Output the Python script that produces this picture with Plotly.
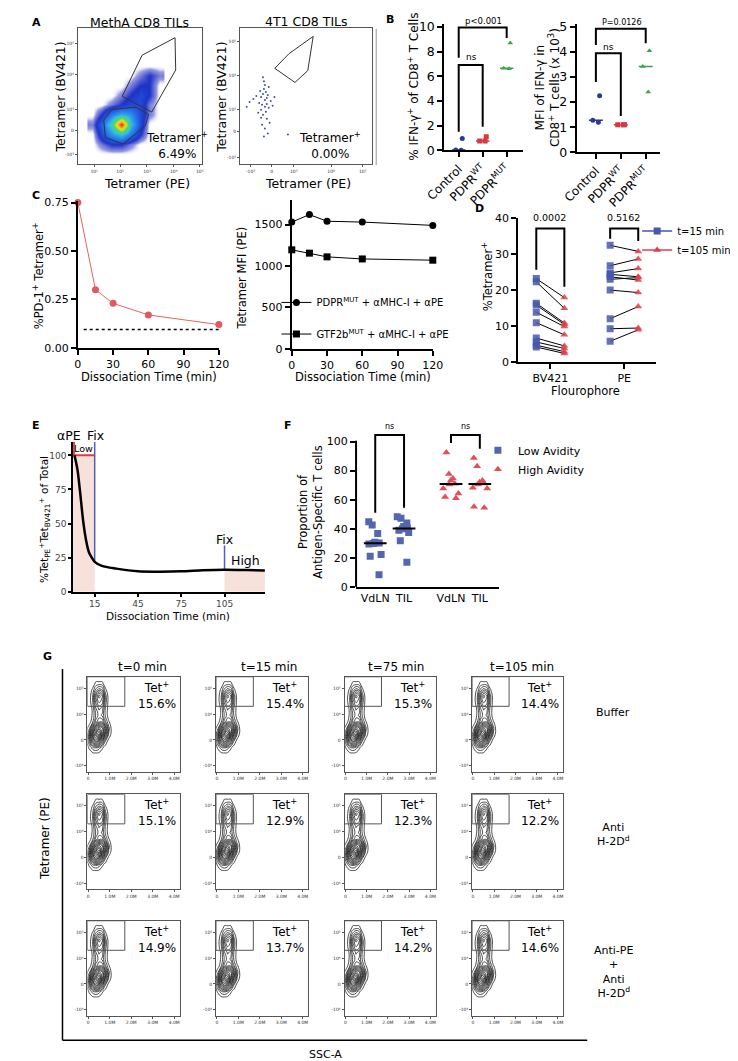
import numpy as np
import plotly.graph_objects as go

W, H = 738, 1061
FONT = "DejaVu Sans"

# ---------------- A : flow dot plots (axis display units) ----------------
metha_x = [1.5, 2.5, 3.5, 4.5, 5.5, 6.5, 7.5, 8.5]
metha_y = [1.0, 2.0, 3.0, 4.0, 5.0, 6.0, 7.0, 8.0, 9.0, 10.0]
metha_density = [
    [0, 0, 0, 0, 0, 0, 0, 0],
    [0, 0.5, 1, 1, 0.5, 0, 0, 0],
    [0, 1.5, 3, 4, 2.5, 1, 0, 0],
    [0.5, 2, 4.5, 10, 4, 1.5, 0, 0],
    [0, 1, 2.5, 3.5, 3, 1.5, 0.5, 0],
    [0, 0, 0.5, 1, 1.5, 1.5, 0.5, 0],
    [0, 0, 0, 0.5, 1, 1.5, 1, 0],
    [0, 0, 0, 0, 0.5, 1, 1, 0],
    [0, 0, 0, 0, 0, 0.5, 1, 0.5],
    [0, 0, 0, 0, 0, 0, 0, 0],
]
metha_gate_hi_x = [4.63, 6.7, 10.13, 10.2, 7.7, 4.63]
metha_gate_hi_y = [6.87, 11.03, 12.8, 9.53, 5.27, 6.87]
metha_gate_lo_x = [2.7, 3.53, 6.03, 7.37, 7.03, 4.7, 2.87, 2.7]
metha_gate_lo_y = [4.47, 5.53, 5.77, 5.03, 3.87, 2.03, 2.7, 4.47]

t41_x = [2.6, 2.4, 2.8, 2.2, 3.0, 2.5, 2.7, 2.3, 2.9, 2.1, 2.6, 3.2, 2.0, 2.4, 2.8, 1.7, 3.4, 2.5,
         2.2, 2.7, 1.4, 3.1, 2.6, 2.3, 1.0, 3.6, 2.9, 2.4, 0.7, 2.6, 3.0, 2.2, 1.9, 2.8, 5.0, 2.5]
t41_y = [6.5, 7.1, 6.1, 6.8, 5.7, 7.6, 5.3, 6.0, 7.0, 7.4, 8.0, 6.4, 6.2, 5.0, 4.6, 6.9, 5.9, 8.4,
         5.5, 7.3, 6.6, 4.2, 3.6, 4.0, 6.3, 6.8, 3.1, 8.8, 5.8, 5.8, 7.8, 4.7, 5.2, 6.7, 3.0, 2.8]
t41_gate_x = [3.63, 5.13, 7.63, 7.07, 5.73, 3.63]
t41_gate_y = [9.7, 11.2, 12.93, 9.47, 8.27, 9.7]

metha_xticks = [1.7, 4.4, 7.2, 10.0, 12.7]
metha_xlabels = ["10¹", "10²", "10³", "10⁴", "10⁵"]
metha_yticks = [1.0, 3.4, 5.5, 9.1, 12.2]
t41_xticks = [1.1, 3.3, 5.6, 9.5, 12.8]
t41_yticks = [0.7, 3.3, 5.5, 9.0, 12.4]
flow_labels = ["-10³", "0", "10³", "10⁴", "10⁵"]
metha_pct = "6.49%"
t41_pct = "0.00%"

# ---------------- B ----------------
b_groups = ["Control", "PDPR<sup>WT</sup>", "PDPR<sup>MUT</sup>"]
b_pct_ifng = [[0.95, 0.02, 0.0], [1.1, 0.75, 0.75], [8.7, 6.6, 6.65]]
b_mfi_ifng = [[2.25, 1.2, 1.28], [1.1, 1.1, 1.1], [4.05, 3.42, 2.4]]
b_colors = ["#2b3990", "#d6393d", "#39a54a"]
b_symbols = ["circle", "square", "triangle-up"]
b1_ns = [1.5, 6.9, 6.9, 1.9]
b1_p = [7.5, 9.95, 9.95, 9.1]
b2_ns = [2.8, 3.95, 3.95, 1.45]
b2_p = [4.28, 4.93, 4.93, 4.35]

# ---------------- C ----------------
c_time = [0, 15, 30, 60, 120]
c_pd1_tet = [0.75, 0.30, 0.23, 0.17, 0.12]
c_background_x = [5, 120]
c_background_y = [0.095, 0.095]
c_pdpr_mfi = [1530, 1620, 1540, 1530, 1490]
c_gtf2b_mfi = [1195, 1155, 1110, 1085, 1070]

# ---------------- D ----------------
d_groups = ["BV421", "PE"]
d_bv421_t15 = [23.2, 22.3, 16.3, 15.8, 13.8, 10.9, 6.6, 5.5, 4.6, 4.1]
d_bv421_t105 = [17.9, 14.9, 10.8, 10.4, 9.8, 7.5, 4.4, 3.7, 2.8, 2.3]
d_pe_t15 = [32.5, 26.8, 24.8, 24.4, 23.7, 23.0, 20.0, 12.0, 9.2, 5.7]
d_pe_t105 = [30.8, 28.7, 26.0, 23.7, 22.8, 23.5, 19.3, 15.4, 9.4, 8.9]
d_pvals = ["0.0002", "0.5162"]
d_bv_bracket = [25.7, 37.2, 37.2, 20.9]
d_pe_bracket = [34.3, 37.2, 37.2, 33.7]

# ---------------- E ----------------
e_time = [1, 3, 5, 7, 9, 11, 13, 15, 20, 30, 45, 60, 75, 90, 105, 120, 133]
e_pct = [100, 90, 72, 52, 38, 29, 25, 22, 19, 17, 15, 14.8, 15, 15.8, 16.2, 16, 15.7]
e_low_window = [0, 15]
e_high_window = [105, 133]
e_high_level = 15.7

# ---------------- F ----------------
f_low_vdln = [44.8, 42.5, 36.8, 30.7, 30.2, 29.8, 29.5, 22.3, 21.1, 8.4]
f_low_til = [48.2, 47.3, 43.9, 41.6, 40.5, 40.0, 39.0, 37.5, 31.8, 17.0]
f_high_vdln = [92.5, 77.7, 74.5, 73.2, 70.9, 70.5, 67.7, 64.3, 61.8, 60.9]
f_high_til = [88.6, 83.0, 73.2, 72.0, 71.1, 70.5, 68.2, 67.7, 55.2, 54.5]
f_low_bracket = [51, 104.5, 104.5, 54.5]
f_high_bracket = [99, 104.5, 104.5, 95]

# ---------------- G ----------------
g_times = ["t=0 min", "t=15 min", "t=75 min", "t=105 min"]
g_conditions = ["Buffer", "Anti<br>H-2D<sup>d</sup>", "Anti-PE<br>+<br>Anti<br>H-2D<sup>d</sup>"]
g_tet_pct = [["15.6%", "15.4%", "15.3%", "14.4%"],
             ["15.1%", "12.9%", "12.3%", "12.2%"],
             ["14.9%", "13.7%", "14.2%", "14.6%"]]
g_ssc = [-0.1, 0.05, 0.2, 0.35, 0.5, 0.65, 0.8, 0.95, 1.1, 1.25]
g_tet = [-0.55, -0.3, -0.05, 0.2, 0.45, 0.7, 0.95, 1.2, 1.45, 1.7, 1.95, 2.2, 2.45]
g_density = [
    [0, 0, 0, 0, 0, 0, 0, 0, 0, 0],
    [0, 0.5, 1.5, 2, 1.5, 0.5, 0, 0, 0, 0],
    [0, 2, 5, 7, 6, 3.5, 1, 0, 0, 0],
    [0, 2.5, 7, 10, 12, 8, 4, 1, 0, 0],
    [0, 1, 4, 7, 9, 8, 5, 1.5, 0, 0],
    [0, 0, 1, 3, 4, 4, 2, 0.5, 0, 0],
    [0, 0, 0.5, 2, 3, 2.5, 1, 0, 0, 0],
    [0, 0, 0.5, 2.5, 3.5, 3, 1, 0, 0, 0],
    [0, 0, 1, 3.5, 5, 4.5, 1.5, 0, 0, 0],
    [0, 0, 1, 4, 6, 5, 1.5, 0, 0, 0],
    [0, 0, 0.5, 2, 3, 2.5, 0.5, 0, 0, 0],
    [0, 0, 0, 0.5, 0.5, 0.5, 0, 0, 0, 0],
    [0, 0, 0, 0, 0, 0, 0, 0, 0, 0],
]
g_gate_x = [-0.04, 1.7]
g_gate_y = [1.3, 2.44]
g_xticks = [0, 1, 2, 3, 4]
g_xlabels = ["0", "1.0M", "2.0M", "3.0M", "4.0M"]
g_yticks = [-1, 0, 1, 2]
g_ylabels = ["-10⁴", "0", "10⁴", "10⁵"]

fig = go.Figure()


def axes(n, xpx, ypx, xr, yr, flow=False, xa=None, ya=None):
    sx = "" if n == 1 else str(n)
    common = dict(showgrid=False, zeroline=False, ticks="outside", showline=True)
    if flow:
        style = dict(mirror=True, linecolor="#555", linewidth=1, ticklen=2, tickwidth=0.6,
                     tickcolor="#555", tickfont=dict(family=FONT, size=4.5, color="#333"))
    else:
        style = dict(linecolor="black", linewidth=2, ticklen=5, tickwidth=1.5,
                     tickcolor="black", tickfont=dict(family=FONT, size=11, color="black"))
    xd = dict(domain=[xpx[0] / W, xpx[1] / W], range=xr, anchor="y" + sx, **common, **style)
    yd = dict(domain=[1 - ypx[1] / H, 1 - ypx[0] / H], range=yr, anchor="x" + sx, **common, **style)
    xd.update(xa or {})
    yd.update(ya or {})
    fig.update_layout({"xaxis" + sx: xd, "yaxis" + sx: yd})
    return "x" + sx, "y" + sx


def ann(text, x, y, size=11, angle=0, xa="center", ya="middle", color="black"):
    fig.add_annotation(text=text, x=x / W, y=1 - y / H, xref="paper", yref="paper",
                       showarrow=False, textangle=angle, xanchor=xa, yanchor=ya,
                       font=dict(family=FONT, size=size, color=color))


def pline(x0, y0, x1, y1, color="black", width=1.5):
    fig.add_shape(type="line", xref="paper", yref="paper", x0=x0 / W, x1=x1 / W,
                  y0=1 - y0 / H, y1=1 - y1 / H, line=dict(color=color, width=width))


def line(xs, ys, ax, color="black", width=1, dash=None):
    fig.add_trace(go.Scatter(x=xs, y=ys, mode="lines", xaxis=ax[0], yaxis=ax[1],
                             line=dict(color=color, width=width, dash=dash),
                             showlegend=False, hoverinfo="skip"))


# ---------- A ----------
jet = [[0, "rgba(255,255,255,0)"], [0.03, "rgba(30,40,190,0.45)"], [0.1, "rgb(30,50,200)"],
       [0.25, "rgb(40,120,240)"], [0.4, "rgb(50,200,220)"], [0.55, "rgb(90,210,90)"],
       [0.7, "rgb(235,230,40)"], [0.85, "rgb(250,140,20)"], [1, "rgb(225,20,20)"]]
a1 = axes(1, [53, 182], [14, 152], [0, 12.9], [0, 13.8], flow=True,
          xa=dict(tickvals=metha_xticks, ticktext=metha_xlabels),
          ya=dict(tickvals=metha_yticks, ticktext=flow_labels))
fig.add_trace(go.Heatmap(x=metha_x, y=metha_y, z=metha_density, zsmooth="best", colorscale=jet,
                         zmin=0, zmax=10, showscale=False, xaxis=a1[0], yaxis=a1[1],
                         hoverinfo="skip"))
line(metha_gate_hi_x, metha_gate_hi_y, a1, "#333", 1)
line(metha_gate_lo_x, metha_gate_lo_y, a1, "#333", 1)

a2 = axes(2, [222, 360], [14, 152], [0, 13.8], [0, 13.8], flow=True,
          xa=dict(tickvals=t41_xticks, ticktext=flow_labels),
          ya=dict(tickvals=t41_yticks, ticktext=flow_labels))
fig.add_trace(go.Scatter(x=t41_x, y=t41_y, mode="markers", xaxis=a2[0], yaxis=a2[1],
                         marker=dict(size=2, color="#4050b0"), showlegend=False, hoverinfo="skip"))
line(t41_gate_x, t41_gate_y, a2, "#333", 1)

ann("<b>A</b>", 3, 9, 11, xa="left")
ann("MethA CD8 TILs", 117, 9, 12.5)
ann("4T1 CD8 TILs", 291, 8, 12.5)
for cx in (35, 203):
    ann("Tetramer (BV421)", cx, 84, 12.5, angle=-90)
for cx in (125, 293):
    ann("Tetramer (PE)", cx, 172, 12.5)
ann("Tetramer<sup>+</sup><br>" + metha_pct, 156, 133, 12)
ann("Tetramer<sup>+</sup><br>" + t41_pct, 316, 133, 12)

# ---------- B ----------
pline(364, 15, 364, 153, "#999", 1)
ann("<b>B</b>", 372, 6, 11, xa="left")
bcat = dict(tickvals=[0, 1, 2], ticktext=b_groups, tickangle=-45,
            tickfont=dict(family=FONT, size=12, color="black"))
b1 = axes(3, [435, 517], [10.5, 138], [-0.6, 2.68], [0, 10.2], xa=bcat,
          ya=dict(dtick=2, tickfont=dict(family=FONT, size=12.5)))
b2 = axes(4, [573, 660], [10.5, 140], [-0.77, 2.58], [0, 5.1], xa=bcat,
          ya=dict(dtick=1, tickfont=dict(family=FONT, size=12.5)))
for ax, vals in ((b1, b_pct_ifng), (b2, b_mfi_ifng)):
    for i, v in enumerate(vals):
        fig.add_trace(go.Box(x=[i] * len(v), y=v, boxpoints="all", jitter=0.7, pointpos=0,
                             width=0.55, fillcolor="rgba(0,0,0,0)",
                             line=dict(color="rgba(0,0,0,0)", width=0),
                             marker=dict(color=b_colors[i], symbol=b_symbols[i], size=5),
                             xaxis=ax[0], yaxis=ax[1], showlegend=False, hoverinfo="skip"))
        m = float(np.median(v))
        line([i - 0.28, i + 0.28], [m, m], ax, b_colors[i], 1.5)
line([0, 0, 1, 1], b1_ns, b1, "black", 2)
line([0, 0, 2, 2], b1_p, b1, "black", 2)
line([0, 0, 1, 1], b2_ns, b2, "black", 2)
line([0, 0, 2, 2], b2_p, b2, "black", 2)
ann("ns", 463, 44, 9)
ann("p<0.001", 476, 7, 8.5)
ann("ns", 606, 33, 9)
ann("P=0.0126", 620, 9, 8)
ann("% IFN-γ<sup>+</sup> of CD8<sup>+</sup> T Cells", 402, 74, 12, angle=-90)
ann("MFI of IFN-γ in<br>CD8<sup>+</sup> T cells (x 10<sup>3</sup>)", 543, 74, 12, angle=-90)

# ---------- C ----------
ann("<b>C</b>", 3, 184, 11, xa="left")
c1 = axes(5, [53, 200], [189, 338], [0, 120], [0, 0.76],
          xa=dict(dtick=30), ya=dict(tickvals=[0, 0.25, 0.5, 0.75], tickformat=".2f"))
fig.add_trace(go.Scatter(x=c_time, y=c_pd1_tet, mode="lines+markers", xaxis=c1[0], yaxis=c1[1],
                         line=dict(color="#e06666", width=1), cliponaxis=False,
                         marker=dict(color="#e05a5f", size=7), showlegend=False, hoverinfo="skip"))
line(c_background_x, c_background_y, c1, "black", 1.5, "dot")
ann("%PD-1<sup>+</sup> Tetramer<sup>+</sup>", 12, 265, 11.5, angle=-90)
ann("Dissociation Time (min)", 127, 368, 11.5)

c2 = axes(6, [276, 423], [188, 339], [0, 120], [0, 1800],
          xa=dict(dtick=30), ya=dict(tickvals=[0, 500, 1000, 1500]))
fig.add_trace(go.Scatter(x=c_time, y=c_pdpr_mfi, mode="lines+markers", xaxis=c2[0], yaxis=c2[1],
                         line=dict(color="black", width=1), cliponaxis=False,
                         marker=dict(color="black", size=7, symbol="circle"),
                         name="PDPR<sup>MUT</sup> + αMHC-I + αPE", legend="legend",
                         hoverinfo="skip"))
fig.add_trace(go.Scatter(x=c_time, y=c_gtf2b_mfi, mode="lines+markers", xaxis=c2[0], yaxis=c2[1],
                         line=dict(color="black", width=1), cliponaxis=False,
                         marker=dict(color="black", size=7, symbol="square"),
                         name="GTF2b<sup>MUT</sup> + αMHC-I + αPE", legend="legend2",
                         hoverinfo="skip"))
ann("Tetramer MFI (PE)", 224, 267, 11.5, angle=-90)
ann("Dissociation Time (min)", 350, 368, 11.5)

# ---------- D ----------
ann("<b>D</b>", 472, 197, 11)
off = 0.19
d3 = axes(7, [512, 656], [207, 352], [0.565, 2.435], [0, 40],
          xa=dict(tickvals=[1, 2], ticktext=d_groups), ya=dict(dtick=10))
d_pairs = [(d_bv421_t15, d_bv421_t105), (d_pe_t15, d_pe_t105)]
for g, (a, b) in enumerate(d_pairs):
    c = g + 1
    xs, ys = [], []
    for va, vb in zip(a, b):
        xs += [c - off, c + off, None]
        ys += [va, vb, None]
    line(xs, ys, d3, "black", 1)
    fig.add_trace(go.Scatter(x=[c - off] * len(a), y=a, mode="markers", xaxis=d3[0], yaxis=d3[1],
                             marker=dict(symbol="square", size=7, color="rgba(70,88,172,0.85)"),
                             showlegend=False, hoverinfo="skip"))
    fig.add_trace(go.Scatter(x=[c + off] * len(b), y=b, mode="markers", xaxis=d3[0], yaxis=d3[1],
                             marker=dict(symbol="triangle-up", size=7, color="rgba(226,62,72,0.85)"),
                             showlegend=False, hoverinfo="skip"))
line([1 - off, 1 - off, 1 + off, 1 + off], d_bv_bracket, d3, "black", 2)
line([2 - off, 2 - off, 2 + off, 2 + off], d_pe_bracket, d3, "black", 2)
ann(d_pvals[0], 545, 206, 9.5)
ann(d_pvals[1], 622, 206, 9.5)
for nm, sym, col in (("t=15 min", "square", "#4658ac"), ("t=105 min", "triangle-up", "#e23e48")):
    fig.add_trace(go.Scatter(x=[None], y=[None], mode="lines+markers", xaxis=d3[0], yaxis=d3[1],
                             line=dict(color=col, width=1.5), marker=dict(symbol=sym, size=7, color=col),
                             name=nm, legend="legend3"))
ann("%Tetramer<sup>+</sup>", 480, 266, 11.5, angle=-90)
ann("Flourophore", 582, 382, 11.5)

# ---------- E ----------
ann("<b>E</b>", 3, 417, 11, xa="left")
e8 = axes(8, [48, 248], [433, 585], [0, 133], [0, 110],
          xa=dict(tickvals=[15, 45, 75, 105], linewidth=1.5, ticklen=3,
                  tickfont=dict(family=FONT, size=9, color="#444")),
          ya=dict(tickvals=[0, 25, 50, 75, 100], linewidth=1.5, ticklen=3,
                  tickfont=dict(family=FONT, size=9, color="#444")))
fig.add_shape(type="rect", xref=e8[0], yref=e8[1], x0=e_low_window[0], x1=e_low_window[1],
              y0=0, y1=100, fillcolor="rgba(242,196,184,0.5)", line_width=0, layer="below")
fig.add_shape(type="rect", xref=e8[0], yref=e8[1], x0=e_high_window[0], x1=e_high_window[1],
              y0=0, y1=e_high_level, fillcolor="rgba(242,196,184,0.5)", line_width=0, layer="below")
line(e_low_window, [100, 100], e8, "#e03a3a", 2)
line([0.6, 0.6], [100, 110], e8, "#e03a3a", 2)
line([e_low_window[1]] * 2, [22, 110], e8, "#5060c0", 1.5)
line([e_high_window[0]] * 2, [e_high_level, 34], e8, "#5060c0", 1.5)
fig.add_trace(go.Scatter(x=e_time, y=e_pct, mode="lines", xaxis=e8[0], yaxis=e8[1],
                         line=dict(color="black", width=2.5, shape="spline", smoothing=0.8),
                         showlegend=False, hoverinfo="skip"))
ann("αPE", 44, 427, 12.5)
ann("Fix", 71, 427, 12.5)
ann("Low", 59, 440, 9.5)
ann("Fix", 206, 532, 12.5)
ann("High", 228, 553, 12.5)
ann("%Tet<sub>PE</sub><sup>+</sup>Tet<sub>BV421</sub><sup>+</sup> of Total", 18, 512, 10.5, angle=-90)
ann("Dissociation Time (min)", 147, 609, 10.5)

# ---------- F ----------
ann("<b>F</b>", 272, 417, 11)
foff = 0.19
f9 = axes(9, [343, 492], [424, 580], [-0.443, 1.443], [0, 106],
          xa=dict(tickvals=[-foff, foff, 1 - foff, 1 + foff], ticktext=["VdLN", "TIL", "VdLN", "TIL"],
                  ticks=""),
          ya=dict(tickvals=[0, 20, 40, 60, 80, 100], showline=False))
pline(343, 580, 343, 432, "black", 2)
f_sets = [(0 - foff, f_low_vdln, "square", "#5466b0"), (0 + foff, f_low_til, "square", "#5466b0"),
          (1 - foff, f_high_vdln, "triangle-up", "#e0505a"), (1 + foff, f_high_til, "triangle-up", "#e0505a")]
for xc, v, sym, col in f_sets:
    fig.add_trace(go.Box(x=[xc] * len(v), y=v, boxpoints="all", jitter=0.9, pointpos=0, width=0.28,
                         fillcolor="rgba(0,0,0,0)", line=dict(color="rgba(0,0,0,0)", width=0),
                         marker=dict(color=col, symbol=sym, size=7), xaxis=f9[0], yaxis=f9[1],
                         showlegend=False, hoverinfo="skip"))
    m = float(np.median(v))
    line([xc - 0.15, xc + 0.15], [m, m], f9, "black", 2)
line([-foff, -foff, foff, foff], f_low_bracket, f9, "black", 2)
line([1 - foff, 1 - foff, 1 + foff, 1 + foff], f_high_bracket, f9, "black", 2)
ann("ns", 378, 418, 8)
ann("ns", 457, 418, 8)
for nm, sym, col in (("Low Avidity", "square", "#5466b0"), ("High Avidity", "triangle-up", "#e0505a")):
    fig.add_trace(go.Scatter(x=[None], y=[None], mode="markers", xaxis=f9[0], yaxis=f9[1],
                             marker=dict(symbol=sym, size=7, color=col), name=nm, legend="legend4"))
ann("Proportion of<br>Antigen-Specific T cells", 296, 504, 11.5, angle=-90)

# ---------- G ----------
ann("<b>G</b>", 15, 650, 11, xa="left")
g_cols = [[63, 159], [197, 293], [331, 426], [464, 559]]
g_rows = [[671, 767], [790, 886], [918, 1014]]
g_title_x = [120, 252, 385, 516]
n = 10
for r, ypx in enumerate(g_rows):
    for c, xpx in enumerate(g_cols):
        g = axes(n, xpx, ypx, [-0.04, 4.25], [-1.22, 2.44], flow=True,
                 xa=dict(tickvals=g_xticks, ticktext=g_xlabels),
                 ya=dict(tickvals=g_yticks, ticktext=g_ylabels))
        fig.add_trace(go.Contour(x=g_ssc, y=g_tet, z=g_density, xaxis=g[0], yaxis=g[1],
                                 contours=dict(coloring="lines", start=0.4, end=11.9, size=0.75),
                                 line=dict(width=0.75, smoothing=1.3),
                                 colorscale=[[0, "#111"], [1, "#111"]], showscale=False,
                                 hoverinfo="skip"))
        fig.add_shape(type="rect", xref=g[0], yref=g[1], x0=g_gate_x[0], x1=g_gate_x[1],
                      y0=g_gate_y[0], y1=g_gate_y[1], line=dict(color="#555", width=1))
        fig.add_annotation(text="Tet<sup>+</sup><br>" + g_tet_pct[r][c], x=0.75, y=0.81,
                           xref=g[0] + " domain", yref=g[1] + " domain", showarrow=False,
                           xanchor="center", yanchor="middle",
                           font=dict(family=FONT, size=12, color="black"))
        n += 1
for c, t in enumerate(g_times):
    ann(t, g_title_x[c], 661, 12)
for r, cond in enumerate(g_conditions):
    ann(cond, 611, [707, 831, 970][r], 11)
pline(37, 663, 37, 1039, "black", 1.5)
pline(37, 1039, 584, 1039, "black", 1.5)
ann("Tetramer (PE)", 19, 835, 12, angle=-90)
ann("SSC-A", 311, 1053, 11)

legfont = dict(family=FONT, size=10, color="black")
fig.update_layout(
    width=W, height=H, margin=dict(l=0, r=0, t=0, b=0),
    paper_bgcolor="white", plot_bgcolor="white",
    font=dict(family=FONT, size=11, color="black"),
    boxmode="overlay",
    legend=dict(x=260 / W, y=1 - 292 / H, xanchor="left", yanchor="middle", font=legfont,
                bgcolor="rgba(0,0,0,0)"),
    legend2=dict(x=260 / W, y=1 - 324 / H, xanchor="left", yanchor="middle", font=legfont,
                 bgcolor="rgba(0,0,0,0)"),
    legend3=dict(x=636 / W, y=1 - 205 / H, xanchor="left", yanchor="top", font=legfont,
                 bgcolor="rgba(0,0,0,0)", tracegroupgap=0),
    legend4=dict(x=470 / W, y=1 - 427 / H, xanchor="left", yanchor="top",
                 font=dict(family=FONT, size=11, color="black"), bgcolor="rgba(0,0,0,0)"),
)

fig.write_html("out.html")
